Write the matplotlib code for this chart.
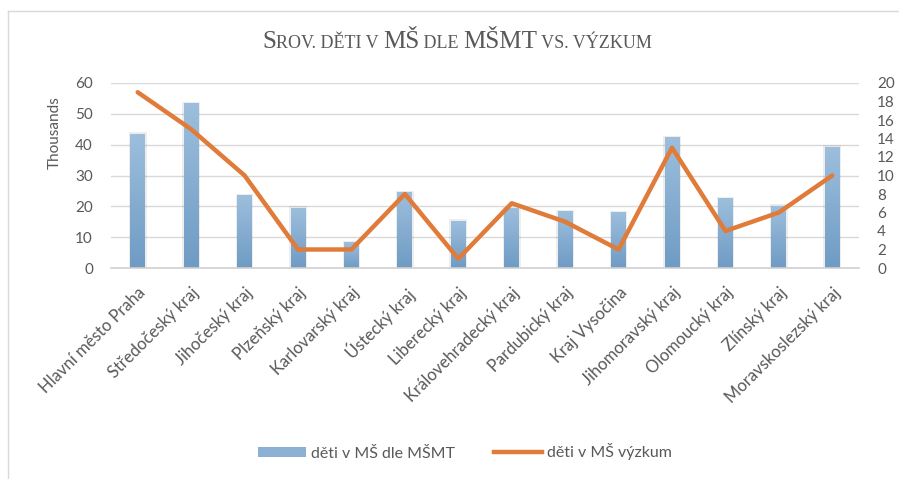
import numpy as np
import matplotlib
matplotlib.use("Agg")
import matplotlib.pyplot as plt
from matplotlib.offsetbox import TextArea, HPacker, AnchoredOffsetbox
from matplotlib.patches import Patch
from matplotlib.lines import Line2D

# data
regions = ["Hlavní město Praha", "Středočeský kraj", "Jihočeský kraj", "Plzeňský kraj",
           "Karlovarský kraj", "Ústecký kraj", "Liberecký kraj", "Královehradecký kraj",
           "Pardubický kraj", "Kraj Vysočina", "Jihomoravský kraj", "Olomoucký kraj",
           "Zlínský kraj", "Moravskoslezský kraj"]
msmt = [43.6, 53.5, 23.6, 19.6, 8.4, 24.6, 15.4, 19.5, 18.4, 18.2, 42.5, 22.6, 20.2, 39.4]
vyzkum = [19, 15, 10, 2, 2, 8, 1, 7, 5, 2, 13, 4, 6, 10]
left_ticks = [0, 10, 20, 30, 40, 50, 60]
right_ticks = [0, 2, 4, 6, 8, 10, 12, 14, 16, 18, 20]

grey = "#595959"
plt.rcParams["font.family"] = ["Lato", "DejaVu Sans"]

W, H = 899, 479
fig = plt.figure(figsize=(W / 100, H / 100), dpi=100)
ax = fig.add_axes([111 / W, 1 - 268 / H, 748 / W, 185 / H])
ax2 = ax.twinx()

x = np.arange(len(regions))
bars = ax.bar(x, msmt, width=0.28, color="#8cb1d5", zorder=2)

# vertical gradient in each bar
grad = np.linspace(0, 1, 256).reshape(-1, 1)
cmap = matplotlib.colors.LinearSegmentedColormap.from_list("b", ["#6f9bc4", "#9dbfdd"])
for b in bars:
    x0, y0 = b.get_x(), b.get_y()
    w, h = b.get_width(), b.get_height()
    # soft shadow
    ax.bar(x0 + w / 2, h + 0.4, width=w + 0.05, color="#000000", alpha=0.07, zorder=1.5)
    im = ax.imshow(grad, extent=[x0, x0 + w, y0, y0 + h], origin="lower",
                   aspect="auto", cmap=cmap, zorder=2.1)
    im.set_clip_path(b)

ax2.plot(x, vyzkum, color="#e07b39", lw=3.2, solid_capstyle="round",
         solid_joinstyle="round", zorder=3)

ax.set_xlim(-0.5, len(regions) - 0.5)
ax.set_ylim(0, 60)
ax2.set_ylim(0, 20)
ax.set_yticks(left_ticks)
ax2.set_yticks(right_ticks)
ax.yaxis.grid(True, color="#d9d9d9", lw=1)
ax.set_axisbelow(True)
for a in (ax, ax2):
    for s in a.spines.values():
        s.set_visible(False)
ax.spines["bottom"].set_visible(True)
ax.spines["bottom"].set_color("#d0d0d0")
ax.spines["bottom"].set_linewidth(1.2)

ax.tick_params(axis="y", length=0, pad=13, labelsize=11, labelcolor=grey)
ax2.tick_params(axis="y", length=0, pad=13, labelsize=11, labelcolor=grey)
ax.set_xticks(x)
ax.set_xticklabels(regions, rotation=45, ha="right", rotation_mode="anchor",
                   fontsize=12, color=grey)
ax.tick_params(axis="x", length=0, pad=12)

fig.text(55 / W, 1 - 133 / H, "Thousands", rotation=90, ha="center", va="center",
         fontsize=11, color=grey)

# title in small caps
big, small = 18, 13
pieces = [("S", big), ("ROV. DĚTI V ", small), ("MŠ", big), (" DLE ", small),
          ("MŠMT", big), (" VS. VÝZKUM", small)]
areas = [TextArea(t, textprops=dict(fontsize=s, color=grey, family="Liberation Serif"))
         for t, s in pieces]
pack = HPacker(children=areas, align="baseline", pad=0, sep=0)
box = AnchoredOffsetbox(loc="center", child=pack, frameon=False, pad=0, borderpad=0,
                        bbox_to_anchor=(457 / W, 1 - 42 / H), bbox_transform=fig.transFigure)
fig.add_artist(box)

handles = [Patch(facecolor="#8cb1d5", edgecolor="none"),
           Line2D([0], [0], color="#e07b39", lw=3.2)]
fig.legend(handles, ["děti v MŠ dle MŠMT", "děti v MŠ výzkum"], loc="center",
           bbox_to_anchor=(465 / W, 1 - 452 / H), ncol=2, frameon=False,
           fontsize=11.5, labelcolor=grey, handlelength=3.0, handleheight=0.6,
           handletextpad=0.35, columnspacing=2.4)

# frame lines (top and left)
fig.add_artist(Line2D([8 / W, 8 / W], [0, 1 - 11 / H], color="#d9d9d9", lw=1,
                      transform=fig.transFigure))
fig.add_artist(Line2D([8 / W, 1], [1 - 11 / H, 1 - 11 / H], color="#d9d9d9", lw=1,
                      transform=fig.transFigure))

fig.savefig("out.png", dpi=100)
